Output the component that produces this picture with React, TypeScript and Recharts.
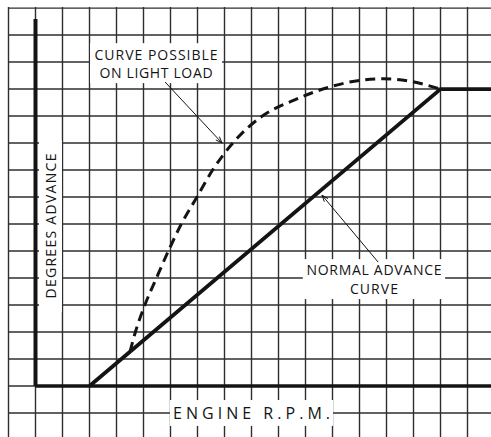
import React from 'react';
import { ComposedChart, Line, XAxis, YAxis, ReferenceLine, ReferenceArea } from 'recharts';

// grid positions (units of one grid square)
const gridX = [-1, 0, 1, 2, 3, 4, 5, 6, 7, 8, 9, 10, 11, 12, 13, 14, 15, 16];
const gridY = [-1, 0, 1, 2, 3, 4, 5, 6, 7, 8, 9, 10, 11, 12, 13, 14];

// normal advance curve
const normalX = [2, 15, 16.87];
const normalY = [0, 11, 11];

// curve possible on light load
const lightX = [3.5, 3.7, 4.05, 4.48, 4.92, 5.4, 5.98, 6.56, 7.31, 8.4, 9.6, 10.8, 12.0, 12.9, 13.8, 15];
const lightY = [1.27, 2, 3, 4, 5, 6, 7, 8, 9, 10, 10.6, 11.05, 11.32, 11.38, 11.3, 11];

const normalData = normalX.map((x, i) => ({ x, y: normalY[i] }));
const lightData = lightX.map((x, i) => ({ x, y: lightY[i] }));

const FONT = '"Open Sans", "DejaVu Sans", sans-serif';
const INK = '#141414';
const GRID = '#2e2e2e';

const X_DOMAIN: [number, number] = [-1.0185, 16.87];
const Y_DOMAIN: [number, number] = [-1.889, 14.04];

function textBox(lines: string[], fontSize: number, widths: number[], gap: number, rotate = false) {
  return (props: any) => {
    const { x, y, width, height } = props;
    const cx = x + width / 2;
    const cy = y + height / 2;
    const n = lines.length;
    return (
      <g>
        <rect x={x} y={y} width={width} height={height} fill="#ffffff" stroke="none" />
        {lines.map((t, i) => {
          const off = (i - (n - 1) / 2) * gap;
          return rotate ? (
            <text
              key={i}
              x={cx + off}
              y={cy}
              transform={`rotate(-90 ${cx + off} ${cy})`}
              textAnchor="middle"
              dominantBaseline="central"
              fontFamily={FONT}
              fontSize={fontSize}
              fill={INK}
              textLength={widths[i]}
              lengthAdjust="spacing"
            >
              {t}
            </text>
          ) : (
            <text
              key={i}
              x={cx}
              y={cy + off}
              textAnchor="middle"
              dominantBaseline="central"
              fontFamily={FONT}
              fontSize={fontSize}
              fill={INK}
              textLength={widths[i]}
              lengthAdjust="spacing"
            >
              {t}
            </text>
          );
        })}
      </g>
    );
  };
}

const leader = (props: any) => {
  const { x1, y1, x2, y2 } = props;
  const ang = Math.atan2(y2 - y1, x2 - x1);
  const L = 7;
  const w = 0.35;
  const ax = x2 - L * Math.cos(ang - w);
  const ay = y2 - L * Math.sin(ang - w);
  const bx = x2 - L * Math.cos(ang + w);
  const by = y2 - L * Math.sin(ang + w);
  return (
    <g>
      <line x1={x1} y1={y1} x2={x2} y2={y2} stroke={INK} strokeWidth={1} />
      <path d={`M${ax},${ay} L${x2},${y2} L${bx},${by}`} fill="none" stroke={INK} strokeWidth={1} />
    </g>
  );
};

export default function App() {
  return (
    <div style={{ position: 'absolute', left: 0, top: 0, width: 491, height: 437, background: '#fff' }}>
      <ComposedChart width={491} height={437} margin={{ top: 7, left: 8, right: 0, bottom: 0 }}>
        <XAxis type="number" dataKey="x" domain={X_DOMAIN} allowDataOverflow hide />
        <YAxis type="number" dataKey="y" domain={Y_DOMAIN} allowDataOverflow hide />

        {gridX.map((v) => (
          <ReferenceLine key={'gx' + v} x={v} stroke={GRID} strokeWidth={1.4} ifOverflow="visible" zIndex={10} />
        ))}
        {gridY.map((v) => (
          <ReferenceLine key={'gy' + v} y={v} stroke={GRID} strokeWidth={1.4} ifOverflow="visible" zIndex={10} />
        ))}

        <ReferenceArea
          x1={2.02}
          x2={6.91}
          y1={11.22}
          y2={12.7}
          ifOverflow="visible"
          zIndex={20}
          shape={textBox(['CURVE POSSIBLE', 'ON LIGHT LOAD'], 14, [123, 113], 18)}
        />
        <ReferenceArea
          x1={9.9}
          x2={15.17}
          y1={3.22}
          y2={4.7}
          ifOverflow="visible"
          zIndex={20}
          shape={textBox(['NORMAL ADVANCE', 'CURVE'], 14, [135, 48], 19)}
        />
        <ReferenceArea
          x1={4.98}
          x2={11.02}
          y1={-1.48}
          y2={-0.52}
          ifOverflow="visible"
          zIndex={20}
          shape={textBox(['ENGINE R.P.M.'], 16, [157], 0)}
        />
        <ReferenceArea
          x1={0.13}
          x2={0.98}
          y1={2.74}
          y2={9.11}
          ifOverflow="visible"
          zIndex={20}
          shape={textBox(['DEGREES ADVANCE'], 14, [145], 0, true)}
        />

        <ReferenceLine
          segment={[{ x: 0, y: 0 }, { x: 0, y: 13.6 }]}
          stroke={INK}
          strokeWidth={4}
          ifOverflow="visible"
          zIndex={30}
        />
        <ReferenceLine
          segment={[{ x: 0, y: 0 }, { x: 16.87, y: 0 }]}
          stroke={INK}
          strokeWidth={3.5}
          ifOverflow="visible"
          zIndex={30}
        />
        <ReferenceLine
          segment={[{ x: 4.8, y: 11.26 }, { x: 6.91, y: 9.0 }]}
          ifOverflow="visible"
          zIndex={30}
          shape={leader}
        />
        <ReferenceLine
          segment={[{ x: 12.69, y: 4.59 }, { x: 10.61, y: 7.07 }]}
          ifOverflow="visible"
          zIndex={30}
          shape={leader}
        />

        <Line
          data={lightData}
          dataKey="y"
          type="monotone"
          stroke={INK}
          strokeWidth={3}
          strokeDasharray="10 6"
          dot={false}
          isAnimationActive={false}
          zIndex={40}
        />
        <Line
          data={normalData}
          dataKey="y"
          type="linear"
          stroke={INK}
          strokeWidth={3.8}
          dot={false}
          isAnimationActive={false}
          zIndex={40}
        />
      </ComposedChart>
    </div>
  );
}
